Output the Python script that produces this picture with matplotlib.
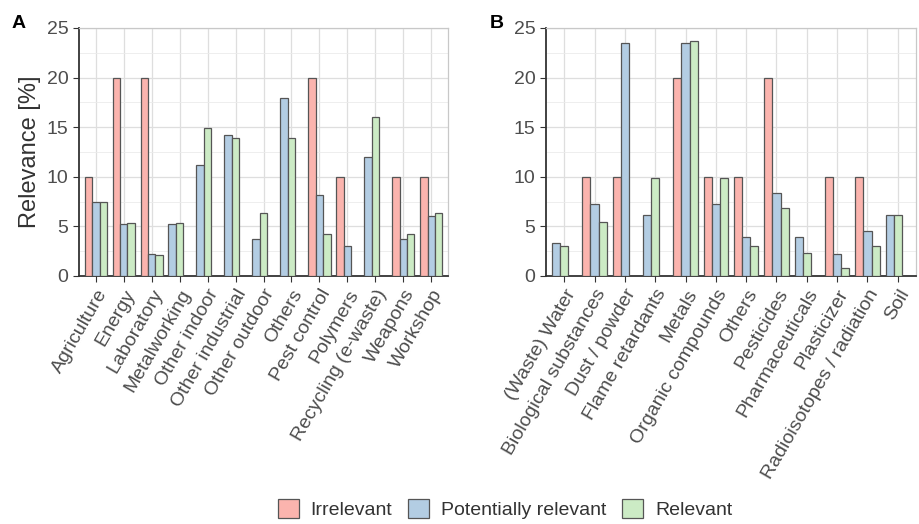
import numpy as np
import matplotlib.pyplot as plt
from matplotlib.patches import Patch
from matplotlib.ticker import MultipleLocator

plt.rcParams['font.family'] = ['Liberation Sans', 'DejaVu Sans']

nan = np.nan

# panel A: by sector
sectors = ['Agriculture', 'Energy', 'Laboratory', 'Metalworking', 'Other indoor',
           'Other industrial', 'Other outdoor', 'Others', 'Pest control', 'Polymers',
           'Recycling (e-waste)', 'Weapons', 'Workshop']
a_irrelevant = [10, 20, 20, nan, nan, nan, nan, nan, 20, 10, nan, 10, 10]
a_potential = [7.5, 5.2, 2.2, 5.2, 11.2, 14.2, 3.7, 17.9, 8.2, 3.0, 12.0, 3.7, 6.0]
a_relevant = [7.5, 5.3, 2.1, 5.3, 14.9, 13.9, 6.4, 13.9, 4.2, nan, 16.0, 4.2, 6.4]

# panel B: by substance / matrix
substances = ['(Waste) Water', 'Biological substances', 'Dust / powder', 'Flame retardants',
              'Metals', 'Organic compounds', 'Others', 'Pesticides', 'Pharmaceuticals',
              'Plasticizer', 'Radioisotopes / radiation', 'Soil']
b_irrelevant = [nan, 10, 10, nan, 20, 10, 10, 20, nan, 10, 10, nan]
b_potential = [3.3, 7.3, 23.5, 6.1, 23.5, 7.3, 3.9, 8.4, 3.9, 2.2, 4.5, 6.1]
b_relevant = [3.0, 5.4, nan, 9.9, 23.7, 9.9, 3.0, 6.9, 2.3, 0.8, 3.0, 6.1]

legend_labels = ['Irrelevant', 'Potentially relevant', 'Relevant']
colors = ['#FBB4AE', '#B3CDE3', '#CCEBC5']
edge = '#555555'
bw = 0.8 / 3


def draw_panel(ax, cats, series):
    for i in range(len(cats)):
        # bars that exist in a group are packed from the left slot
        present = [k for k in range(3) if not np.isnan(series[k][i])]
        for slot, k in enumerate(present):
            ax.bar(i + (slot - 1) * bw, series[k][i], width=bw, color=colors[k],
                   edgecolor=edge, linewidth=0.9, zorder=3)
    ax.set_xlim(-0.6, len(cats) - 0.4)
    ax.set_ylim(0, 25)
    ax.set_xticks(range(len(cats)))
    ax.set_xticklabels(cats, rotation=60, ha='right', rotation_mode='anchor',
                       fontsize=14, color='#4D4D4D')
    ax.yaxis.set_major_locator(MultipleLocator(5))
    ax.yaxis.set_minor_locator(MultipleLocator(2.5))
    ax.tick_params(axis='y', labelsize=14, labelcolor='#4D4D4D', color='#333333', length=4)
    ax.tick_params(axis='y', which='minor', length=0)
    ax.tick_params(axis='x', color='#333333', length=4)
    ax.grid(which='major', color='#DEDEDE', linewidth=0.9, zorder=0)
    ax.grid(which='minor', axis='y', color='#EBEBEB', linewidth=0.6, zorder=0)
    ax.set_axisbelow(True)
    for s in ['top', 'right']:
        ax.spines[s].set_color('#C8C8C8')
        ax.spines[s].set_linewidth(0.9)
    for s in ['left', 'bottom']:
        ax.spines[s].set_color('#333333')
        ax.spines[s].set_linewidth(1.3)


fig = plt.figure(figsize=(9.19, 5.24), dpi=100)
axA = fig.add_axes([79 / 919, 248 / 524, 369 / 919, 248 / 524])
axB = fig.add_axes([546 / 919, 248 / 524, 370 / 919, 248 / 524])

draw_panel(axA, sectors, [a_irrelevant, a_potential, a_relevant])
draw_panel(axB, substances, [b_irrelevant, b_potential, b_relevant])
axA.set_ylabel('Relevance [%]', fontsize=17, color='#333333', labelpad=4)

fig.text(12 / 919, 1 - 24 / 524, 'A', fontsize=14, fontweight='bold', va='center')
fig.text(490 / 919, 1 - 24 / 524, 'B', fontsize=14, fontweight='bold', va='center')

handles = [Patch(facecolor=c, edgecolor=edge, linewidth=0.9) for c in colors]
fig.legend(handles, legend_labels, loc='center', bbox_to_anchor=(505 / 919, 1 - 509 / 524),
           ncol=3, frameon=False, fontsize=14, handlelength=1.1, handleheight=1.1,
           handletextpad=0.6, columnspacing=0.8, labelcolor='#333333')

fig.savefig('out.png', dpi=100)
